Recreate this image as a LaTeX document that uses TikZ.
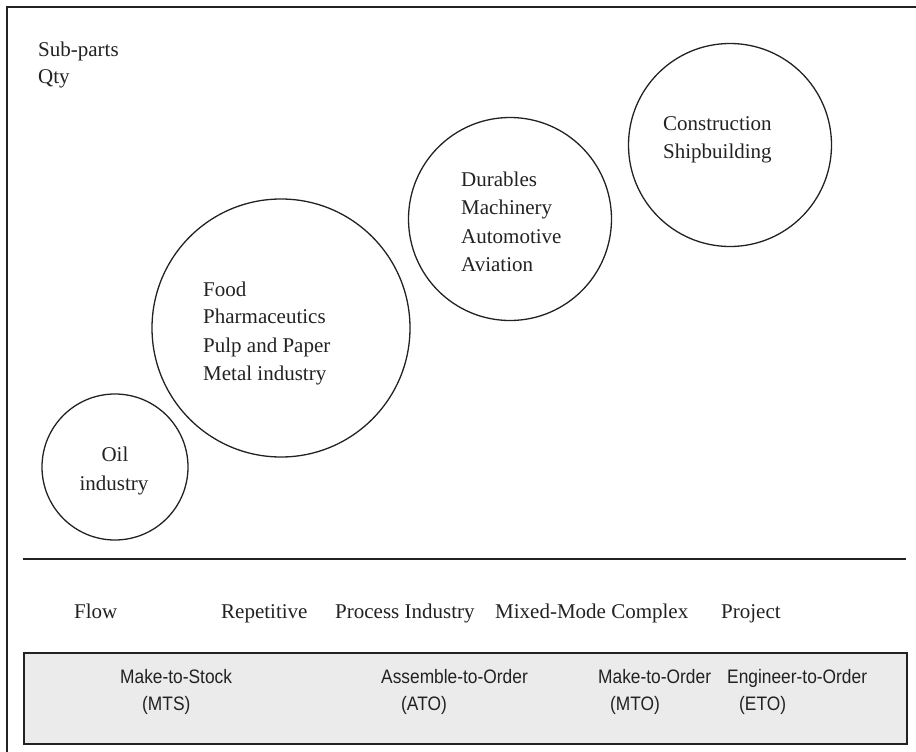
\documentclass[tikz,border=0pt]{standalone}
\usepackage{fontspec}
\setmainfont{Liberation Serif}
\newfontfamily\narrowsans{Liberation Sans}[FakeStretch=0.89]
\definecolor{ink}{HTML}{222222}
\definecolor{panel}{HTML}{EBEBEB}

\begin{document}
\begin{tikzpicture}[x=1pt,y=-1pt,
	ring/.style={circle, draw=ink, line width=1.3pt, inner sep=0pt},
	txt/.style={anchor=base west, inner sep=0pt, text=ink, font=\fontsize{21}{28}\selectfont},
	ctxt/.style={txt, anchor=base},
	otxt/.style={anchor=base west, inner sep=0pt, text=ink, font=\narrowsans\fontsize{19.5}{26}\selectfont}]
	\useasboundingbox (0,0) rectangle (916,752);
	% open frame, left and top side only
	\coordinate (fb) at (7,752);
	\coordinate (fc) at (7,7);
	\coordinate (fr) at (916,7);
	\draw[ink, line width=2pt] (fb) -- (fc) -- (fr);
	% axis label
	\node[txt] (sub) at (38,57) {Sub-parts};
	\node[txt] (qty) at (38,84) {Qty};
	% industry groups
	\node[ring, minimum size=146pt] (oil) at (115,467) {};
	\node[ring, minimum size=258pt] (food) at (281,328) {};
	\node[ring, minimum size=203pt] (dur) at (510,219) {};
	\node[ring, minimum size=203pt] (con) at (730,145) {};
	\node[ctxt] (oil1) at (115,461) {Oil};
	\node[ctxt] (oil2) at (114,490) {industry};
	\node[txt] (food1) at (203,296) {Food};
	\node[txt] (food2) at (203,323) {Pharmaceutics};
	\node[txt] (food3) at (203,352) {Pulp and Paper};
	\node[txt] (food4) at (203,380) {Metal industry};
	\node[txt] (dur1) at (461,186) {Durables};
	\node[txt] (dur2) at (461,214) {Machinery};
	\node[txt] (dur3) at (461,243) {Automotive};
	\node[txt] (dur4) at (461,271) {Aviation};
	\node[txt] (con1) at (663,130) {Construction};
	\node[txt] (con2) at (663,158) {Shipbuilding};
	% divider
	\coordinate (dl) at (23,559);
	\coordinate (dr) at (906,559);
	\draw[ink, line width=2.5pt] (dl) -- (dr);
	% production types
	\node[txt] (flow) at (74,618) {Flow};
	\node[txt] (rep) at (221,618) {Repetitive};
	\node[txt] (proc) at (335,618) {Process Industry};
	\node[txt] (mix) at (495,618) {Mixed-Mode Complex};
	\node[txt] (proj) at (721,618) {Project};
	% order strategies
	\node[draw=ink, fill=panel, line width=1.5pt, anchor=north west, inner sep=0pt,
		minimum width=883pt, minimum height=91pt] (orders) at (23,652) {};
	\node[otxt] (mts1) at (120,683) {Make-to-Stock};
	\node[otxt] (mts2) at (142,710) {(MTS)};
	\node[otxt] (ato1) at (381,683) {Assemble-to-Order};
	\node[otxt] (ato2) at (401,710) {(ATO)};
	\node[otxt] (mto1) at (598,683) {Make-to-Order};
	\node[otxt] (mto2) at (610,710) {(MTO)};
	\node[otxt] (eto1) at (727,683) {Engineer-to-Order};
	\node[otxt] (eto2) at (739,710) {(ETO)};
\end{tikzpicture}
\end{document}
